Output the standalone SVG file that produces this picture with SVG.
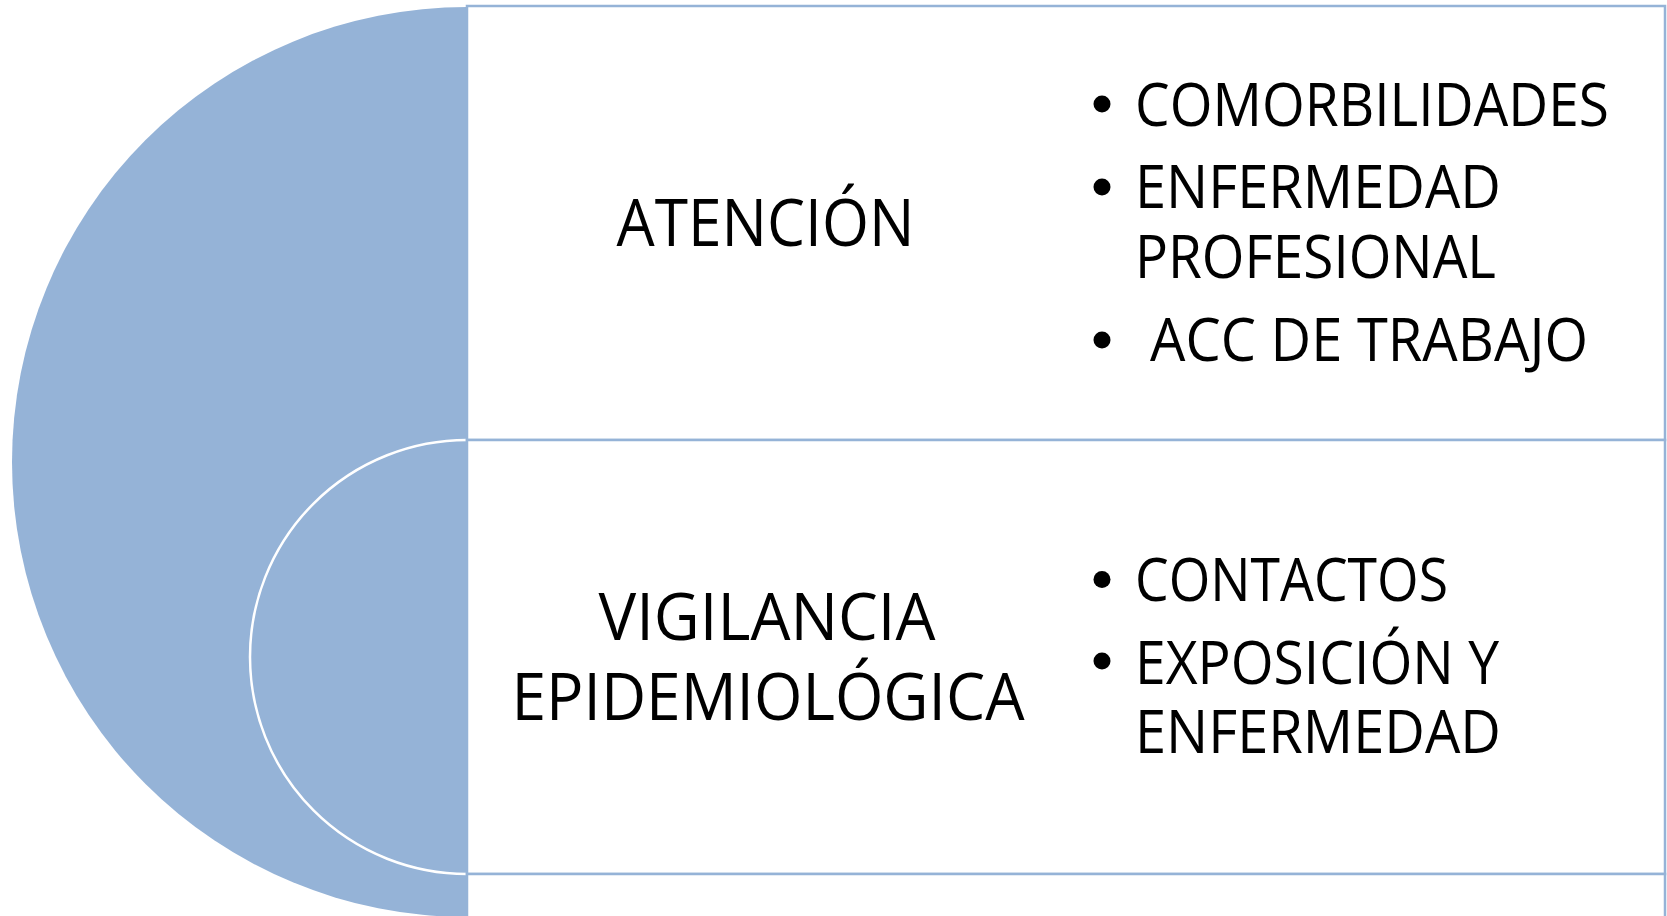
<svg xmlns="http://www.w3.org/2000/svg" width="1667" height="916" viewBox="0 0 1667 916">
<style>
.shape{fill:#95B3D7;}
.box{fill:#FFFFFF;stroke:#95B3D7;stroke-width:2.5;}
.lbl{font-family:"Open Sans","Noto Sans",sans-serif;font-size:66px;fill:#000000;text-anchor:middle;}
.itm{font-family:"Open Sans","Noto Sans",sans-serif;font-size:61px;fill:#000000;}
.dot{fill:#000000;}
</style>
<g id="arc-outer">
<path class="shape" d="M 467 7 A 455 455 0 0 0 467 917 Z"/>
</g>
<g id="arc-inner">
<path class="shape" d="M 467 440 A 217 217 0 0 0 467 874" stroke="#FFFFFF" stroke-width="2.5"/>
</g>
<g id="node-atencion">
<rect class="box" x="467" y="6" width="1198" height="434"/>
<text class="lbl" x="765.5" y="245.5" textLength="298" lengthAdjust="spacingAndGlyphs">ATENCIÓN</text>
<circle class="dot" cx="1102" cy="104" r="8.5"/>
<text class="itm" x="1135" y="125.5" textLength="474" lengthAdjust="spacingAndGlyphs">COMORBILIDADES</text>
<circle class="dot" cx="1102" cy="187" r="8.5"/>
<text class="itm" x="1135" y="208" textLength="366" lengthAdjust="spacingAndGlyphs">ENFERMEDAD</text>
<text class="itm" x="1135" y="277.5" textLength="361" lengthAdjust="spacingAndGlyphs">PROFESIONAL</text>
<circle class="dot" cx="1102" cy="340" r="8.5"/>
<text class="itm" x="1150" y="360.5" textLength="438" lengthAdjust="spacingAndGlyphs">ACC DE TRABAJO</text>
</g>
<g id="node-vigilancia">
<rect class="box" x="467" y="440" width="1198" height="434"/>
<text class="lbl" x="767" y="640" textLength="337" lengthAdjust="spacingAndGlyphs">VIGILANCIA</text>
<text class="lbl" x="768" y="719.5" textLength="513" lengthAdjust="spacingAndGlyphs">EPIDEMIOLÓGICA</text>
<circle class="dot" cx="1102" cy="579.5" r="8.5"/>
<text class="itm" x="1135" y="600.5" textLength="313" lengthAdjust="spacingAndGlyphs">CONTACTOS</text>
<circle class="dot" cx="1102" cy="661" r="8.5"/>
<text class="itm" x="1135" y="683.5" textLength="364" lengthAdjust="spacingAndGlyphs">EXPOSICIÓN Y</text>
<text class="itm" x="1135" y="752.5" textLength="366" lengthAdjust="spacingAndGlyphs">ENFERMEDAD</text>
</g>
<g id="node-third">
<rect class="box" x="467" y="874" width="1198" height="100"/>
</g>
<g id="connectors"></g>
</svg>
